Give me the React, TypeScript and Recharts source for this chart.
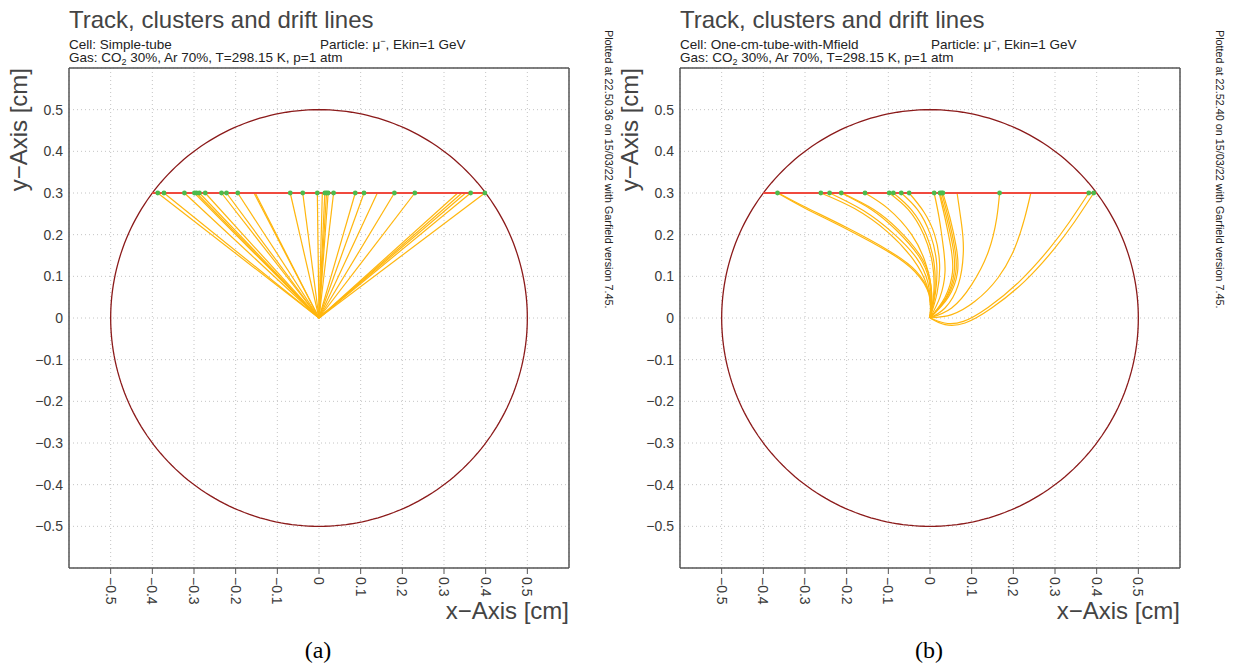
import React from 'react';
import { ComposedChart, Line, Scatter, XAxis, YAxis, CartesianGrid } from 'recharts';

const FONT = '"Liberation Sans", Arial, sans-serif';
const FRAME = '#555';
const DRIFT = '#ffb60d';
const TEXT = '#3a3a3a';

const axisTicks = [-0.5, -0.4, -0.3, -0.2, -0.1, 0, 0.1, 0.2, 0.3, 0.4, 0.5];
const axisDomain = [-0.6, 0.6];

// cell geometry (cm)
const tubeRadius = 0.5;
const trackY = 0.3;
const trackEnds = [-0.4, 0.4];
const wire = [0, 0];

// (a) Simple-tube: cluster positions on the track and drift line start points
const clustersA = [-0.387, -0.372, -0.323, -0.299, -0.294, -0.287, -0.273, -0.234, -0.222, -0.195,
  -0.069, -0.039, -0.004, 0.014, 0.018, 0.022, 0.035, 0.087, 0.108, 0.181, 0.23, 0.364, 0.398];
const electronsA = [-0.387, -0.372, -0.323, -0.299, -0.294, -0.287, -0.273, -0.234, -0.222, -0.195,
  -0.156, -0.153, -0.069, -0.039, -0.004, 0.008, 0.014, 0.018, 0.022, 0.035, 0.087, 0.108, 0.14,
  0.181, 0.23, 0.333, 0.343, 0.352, 0.364, 0.398];

// (b) One-cm-tube-with-Mfield: clusters and curved drift lines
const clustersB = [-0.366, -0.262, -0.241, -0.213, -0.156, -0.098, -0.088, -0.069, -0.05,
  0.01, 0.024, 0.028, 0.031, 0.167, 0.381, 0.393];
const driftB: number[][][] = [
  [[-0.366, 0.3], [-0.299, 0.263], [-0.203, 0.215], [-0.1, 0.159], [-0.036, 0.111], [-0.002, 0.056], [0, 0]],
  [[-0.364, 0.3], [-0.297, 0.265], [-0.2, 0.217], [-0.098, 0.161], [-0.034, 0.113], [-0.001, 0.057], [0, 0]],
  [[-0.262, 0.3], [-0.18, 0.262], [-0.1, 0.205], [-0.04, 0.14], [-0.008, 0.08], [0.001, 0.03], [0, 0]],
  [[-0.241, 0.3], [-0.16, 0.258], [-0.09, 0.205], [-0.033, 0.145], [-0.005, 0.085], [0.002, 0.03], [0, 0]],
  [[-0.213, 0.3], [-0.14, 0.26], [-0.08, 0.21], [-0.028, 0.15], [-0.002, 0.09], [0.003, 0.03], [0, 0]],
  [[-0.211, 0.3], [-0.136, 0.261], [-0.076, 0.212], [-0.025, 0.152], [0, 0.092], [0.004, 0.032], [0, 0]],
  [[-0.156, 0.3], [-0.1, 0.262], [-0.044, 0.2], [-0.01, 0.13], [0.004, 0.06], [0, 0]],
  [[-0.098, 0.3], [-0.052, 0.26], [-0.015, 0.2], [0.006, 0.13], [0.009, 0.06], [0, 0]],
  [[-0.088, 0.3], [-0.045, 0.26], [-0.009, 0.2], [0.01, 0.13], [0.011, 0.06], [0, 0]],
  [[-0.069, 0.3], [-0.03, 0.26], [0.001, 0.2], [0.016, 0.13], [0.013, 0.06], [0, 0]],
  [[-0.05, 0.3], [-0.015, 0.255], [0.011, 0.2], [0.023, 0.13], [0.017, 0.06], [0, 0]],
  [[0.01, 0.3], [0.022, 0.24], [0.032, 0.17], [0.036, 0.11], [0.024, 0.05], [0, 0]],
  [[0.022, 0.3], [0.036, 0.24], [0.05, 0.17], [0.054, 0.11], [0.036, 0.05], [0, 0]],
  [[0.024, 0.3], [0.04, 0.24], [0.055, 0.17], [0.058, 0.11], [0.039, 0.05], [0, 0]],
  [[0.028, 0.3], [0.044, 0.24], [0.059, 0.17], [0.062, 0.11], [0.041, 0.05], [0, 0]],
  [[0.031, 0.3], [0.048, 0.24], [0.063, 0.17], [0.066, 0.11], [0.044, 0.05], [0, 0]],
  [[0.065, 0.3], [0.076, 0.223], [0.08, 0.159], [0.068, 0.08], [0.036, 0.024], [0, 0]],
  [[0.167, 0.3], [0.16, 0.239], [0.14, 0.159], [0.1, 0.08], [0.052, 0.024], [0, 0]],
  [[0.242, 0.3], [0.227, 0.239], [0.203, 0.167], [0.163, 0.096], [0.108, 0.04], [0.052, 0.008], [0, 0]],
  [[0.381, 0.3], [0.335, 0.231], [0.287, 0.167], [0.215, 0.088], [0.14, 0.026], [0.08, -0.008], [0.035, -0.012], [0, 0]],
  [[0.393, 0.3], [0.347, 0.231], [0.299, 0.167], [0.227, 0.088], [0.148, 0.024], [0.084, -0.012], [0.036, -0.016], [0, 0]],
];

const panels = [
  { left: 0, cell: 'Simple-tube', caption: '(a)', stamp: 'Plotted at 22.50.36 on 15/03/22 with Garfield version 7.45.' },
  { left: 611, cell: 'One-cm-tube-with-Mfield', caption: '(b)', stamp: 'Plotted at 22.52.40 on 15/03/22 with Garfield version 7.45.' },
];

type Pt = { x: number; y: number };
const toPts = (path: number[][]): Pt[] => path.map(([x, y]) => ({ x, y }));

const tubeWall: Pt[] = Array.from({ length: 241 }, (_, i) => {
  const a = (i / 240) * 2 * Math.PI;
  return { x: tubeRadius * Math.cos(a), y: tubeRadius * Math.sin(a) };
});
const trackLine: Pt[] = trackEnds.map((x) => ({ x, y: trackY }));
const driftA: number[][][] = electronsA.map((x) => [[x, trackY], wire]);

const fmt = (v: number) => (v === 0 ? '0' : (v < 0 ? '\u2212' : '') + Math.abs(v).toFixed(1));

const XTick = (props: any) => {
  const { x, y, payload } = props;
  return (
    <text x={x} y={y} dy="0.35em" transform={`rotate(90, ${x}, ${y})`} fontSize={14} fill={TEXT}
      fontFamily={FONT} textAnchor="start">
      {fmt(payload.value)}
    </text>
  );
};

const GreenDot = (props: any) => <circle cx={props.cx} cy={props.cy} r={2.4} fill="#4cbb4c" />;

function Panel({ left, clusters, drifts }: { left: number; clusters: number[]; drifts: number[][][] }) {
  return (
    <div style={{ position: 'absolute', left, top: 0 }}>
      <ComposedChart width={600} height={612} margin={{ top: 68, right: 31, bottom: 4, left: 19 }}>
        <CartesianGrid stroke="#c4c4c4" strokeDasharray="1 3" />
        <XAxis dataKey="x" type="number" domain={axisDomain} ticks={axisTicks} interval={0} allowDataOverflow
          height={40} tick={(p: any) => <XTick {...p} />} tickSize={6} tickMargin={3}
          axisLine={{ stroke: FRAME, strokeWidth: 1.5 }} tickLine={{ stroke: FRAME }} />
        <XAxis xAxisId="top" orientation="top" mirror type="number" domain={axisDomain} ticks={axisTicks}
          interval={0} tick={false} tickSize={4} axisLine={{ stroke: FRAME, strokeWidth: 1.5 }} tickLine={{ stroke: FRAME }} />
        <YAxis dataKey="y" type="number" domain={axisDomain} ticks={axisTicks} interval={0} allowDataOverflow
          width={50} tickLine={false} tickSize={0} tickMargin={6} tickFormatter={fmt}
          tick={{ fontSize: 14, fill: TEXT, fontFamily: FONT }} axisLine={{ stroke: FRAME, strokeWidth: 1.5 }} />
        <YAxis yAxisId="inL" orientation="left" mirror type="number" domain={axisDomain} ticks={axisTicks}
          interval={0} tick={false} tickSize={5} axisLine={false} tickLine={{ stroke: FRAME }} />
        <YAxis yAxisId="right" orientation="right" mirror type="number" domain={axisDomain} ticks={axisTicks}
          interval={0} tick={false} tickSize={4} axisLine={{ stroke: FRAME, strokeWidth: 1.5 }} tickLine={{ stroke: FRAME }} />
        <Line data={tubeWall} dataKey="y" type="linear" stroke="#8b1a1a" strokeWidth={1.3} dot={false}
          activeDot={false} isAnimationActive={false} />
        {drifts.map((d, i) => (
          <Line key={i} data={toPts(d)} dataKey="y" type="natural" stroke={DRIFT} strokeWidth={1.2}
            dot={false} activeDot={false} isAnimationActive={false} />
        ))}
        <Line data={trackLine} dataKey="y" type="linear" stroke="#f04a3e" strokeWidth={1.8} dot={false}
          activeDot={false} isAnimationActive={false} />
        <Scatter data={clusters.map((x) => ({ x, y: trackY }))} dataKey="y" shape={<GreenDot />}
          isAnimationActive={false} />
      </ComposedChart>
    </div>
  );
}

function Labels() {
  return (
    <svg width={1233} height={666} style={{ position: 'absolute', left: 0, top: 0, pointerEvents: 'none' }}
      fontFamily={FONT} fill="#222">
      {panels.map((p) => {
        const o = p.left;
        return (
          <g key={p.caption}>
            <text x={69 + o} y={27.5} fontSize={24} fill="#444">Track, clusters and drift lines</text>
            <text x={69 + o} y={49} fontSize={13.5}>Cell: {p.cell}</text>
            <text x={320 + o} y={49} fontSize={13.5}>
              Particle: μ<tspan fontSize={9} dy={-5}>−</tspan><tspan dy={5}>, Ekin=1 GeV</tspan>
            </text>
            <text x={69 + o} y={62} fontSize={13.5}>
              Gas: CO<tspan fontSize={9} dy={3}>2</tspan><tspan dy={-3}> 30%, Ar 70%, T=298.15 K, p=1 atm</tspan>
            </text>
            <text x={27 + o} y={68} fontSize={24} fill="#444" textAnchor="end" transform={`rotate(-90, ${27 + o}, 68)`}>
              y−Axis [cm]
            </text>
            <text x={569 + o} y={619} fontSize={24} fill="#444" textAnchor="end">x−Axis [cm]</text>
            <text x={605 + o} y={30} fontSize={10.8} transform={`rotate(90, ${605 + o}, 30)`}>{p.stamp}</text>
            <text x={318 + o} y={658} fontSize={24} fontFamily='"Liberation Serif", "Times New Roman", serif'
              textAnchor="middle" fill="#000">{p.caption}</text>
          </g>
        );
      })}
    </svg>
  );
}

export default function App() {
  return (
    <div style={{ position: 'absolute', left: 0, top: 0, width: 1233, height: 666, background: '#fff' }}>
      <Panel left={panels[0].left} clusters={clustersA} drifts={driftA} />
      <Panel left={panels[1].left} clusters={clustersB} drifts={driftB} />
      <Labels />
    </div>
  );
}
